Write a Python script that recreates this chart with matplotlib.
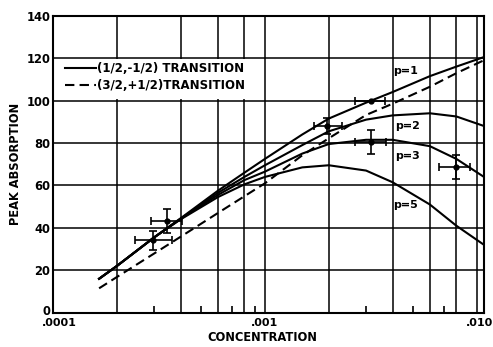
import matplotlib
matplotlib.use("Agg")
import matplotlib.pyplot as plt
import matplotlib.transforms as mtransforms
import numpy as np
from matplotlib.patches import Rectangle
from matplotlib.ticker import FixedLocator, FixedFormatter, NullFormatter

# --------------------------------------------------
# curve data: peak absorption vs concentration
# --------------------------------------------------
conc = [1.65e-4, 2e-4, 3e-4, 4e-4, 6e-4, 8e-4, 1e-3, 1.5e-3,
        2e-3, 3e-3, 4e-3, 6e-3, 8e-3, 1.08e-2]

p1_solid = [16, 22, 35.5, 44.5, 57.5, 66, 72.5, 84, 91.5, 99, 104, 111.5, 116, 120.5]
p2_solid = [16, 22, 35.5, 44.3, 56.5, 64, 69.5, 79, 85.5, 91, 93, 94, 92.5, 88]
p3_solid = [16, 22, 35.5, 44.2, 55.5, 62.5, 66.5, 75, 79.5, 81.5, 81.5, 78.5, 72.5, 64]
p5_solid = [16, 22, 35.5, 44, 54.5, 60.5, 64, 68.5, 69.5, 67, 61.5, 51, 41, 32]
p1_dashed = [11.5, 16.8, 27.9, 35.8, 47, 54.9, 61, 74.2, 82.2, 93.2, 98.5, 106.5, 112.9, 119]

# measured points with error ranges
pt_conc = [2.97e-4, 3.46e-4, 1.97e-3, 3.15e-3, 3.15e-3, 7.94e-3]
pt_conc_lo = [2.44e-4, 2.89e-4, 1.70e-3, 2.66e-3, 2.66e-3, 6.64e-3]
pt_conc_hi = [3.63e-4, 4.05e-4, 2.30e-3, 3.68e-3, 3.72e-3, 9.27e-3]
pt_abs = [34.2, 43.3, 88, 100, 80.5, 68.6]
pt_abs_err = [4.5, 5.5, 4, 0, 5.5, 5.7]

# curve labels
p_labels = ["p=1", "p=2", "p=3", "p=5"]
p_label_conc = [4.62e-3, 4.7e-3, 4.7e-3, 4.62e-3]
p_label_abs = [114, 88, 74, 50.8]

legend_labels = ["(1/2,-1/2) TRANSITION", "(3/2,+1/2)TRANSITION"]

# --------------------------------------------------
# figure setup
# --------------------------------------------------
plt.rcParams["font.family"] = "DejaVu Sans"
plt.rcParams["font.weight"] = "bold"

fig = plt.figure(figsize=(4.93, 3.47), dpi=100)
ax = fig.add_axes([0.1075, 0.0988, 0.8742, 0.856])
ax.set_xscale("log")
ax.set_xlim(1e-4, 1.08e-2)
ax.set_ylim(0, 140)
ax.set_axisbelow(True)

# grid lines and ticks
x_grid = [1e-4, 2e-4, 4e-4, 6e-4, 8e-4, 1e-3, 2e-3, 4e-3, 6e-3, 8e-3, 1e-2]
x_grid_labels = [".0001", "", "", "", "", ".001", "", "", "", "", ".010"]
x_minor = [3e-4, 5e-4, 7e-4, 9e-4, 3e-3, 5e-3, 7e-3]
ax.xaxis.set_major_locator(FixedLocator(x_grid))
ax.xaxis.set_major_formatter(FixedFormatter(x_grid_labels))
ax.xaxis.set_minor_locator(FixedLocator(x_minor))
ax.xaxis.set_minor_formatter(NullFormatter())
ax.set_yticks(np.arange(0, 141, 20))
ax.grid(True, which="major", color="black", lw=1.1)
ax.tick_params(axis="both", which="major", length=0, labelsize=8.3, pad=2)
ax.tick_params(axis="x", which="major", pad=4, labelsize=8)
ax.tick_params(axis="x", which="minor", direction="in", length=5, width=1.2)
for sp in ax.spines.values():
    sp.set_linewidth(1.5)

# nudge the corner labels apart
xlabels = ax.get_xticklabels()
for lbl, dx in ((xlabels[0], 0.06), (xlabels[-1], 0.03)):
    lbl.set_transform(lbl.get_transform()
                      + mtransforms.ScaledTranslation(dx, 0, fig.dpi_scale_trans))
ylabel0 = ax.get_yticklabels()[0]
ylabel0.set_transform(ylabel0.get_transform()
                      + mtransforms.ScaledTranslation(0, 0.025, fig.dpi_scale_trans))

# blank area behind the legend
ax.add_patch(Rectangle((1e-4, 100.6), 8.69e-4 - 1e-4, 18.8,
                       facecolor="white", edgecolor="none", zorder=1))

# --------------------------------------------------
# curves
# --------------------------------------------------
kw = dict(color="black", lw=1.5, zorder=3)
h1, = ax.plot(conc, p1_solid, **kw)
ax.plot(conc, p2_solid, **kw)
ax.plot(conc, p3_solid, **kw)
ax.plot(conc, p5_solid, **kw)
h2, = ax.plot(conc, p1_dashed, dashes=(4.5, 2.5), **kw)

# error bars
xerr = [np.array(pt_conc) - np.array(pt_conc_lo), np.array(pt_conc_hi) - np.array(pt_conc)]
ax.errorbar(pt_conc, pt_abs, xerr=xerr, yerr=pt_abs_err, fmt="o", color="black",
            ms=3.5, elinewidth=1.2, capsize=2.8, capthick=1.2, zorder=4)

for lab, xc, yv in zip(p_labels, p_label_conc, p_label_abs):
    ax.text(xc, yv, lab, fontsize=8, ha="center", va="center", zorder=5)

ax.legend([h1, h2], legend_labels, loc="upper left", bbox_to_anchor=(0.028, 0.845),
          frameon=False, borderpad=0, borderaxespad=0, handlelength=2.6,
          handletextpad=0.1, labelspacing=0.4, fontsize=8.5)

# axis labels
ax.set_xlabel("CONCENTRATION", fontsize=8.3, fontweight="bold")
ax.set_ylabel("PEAK ABSORPTION", fontsize=8.3, fontweight="bold")
ax.xaxis.set_label_coords(0.485, -0.084)
ax.xaxis.label.set_verticalalignment("center")
ax.yaxis.set_label_coords(-0.088, 0.5)
ax.yaxis.label.set_verticalalignment("center")

fig.savefig("out.png", dpi=100)
